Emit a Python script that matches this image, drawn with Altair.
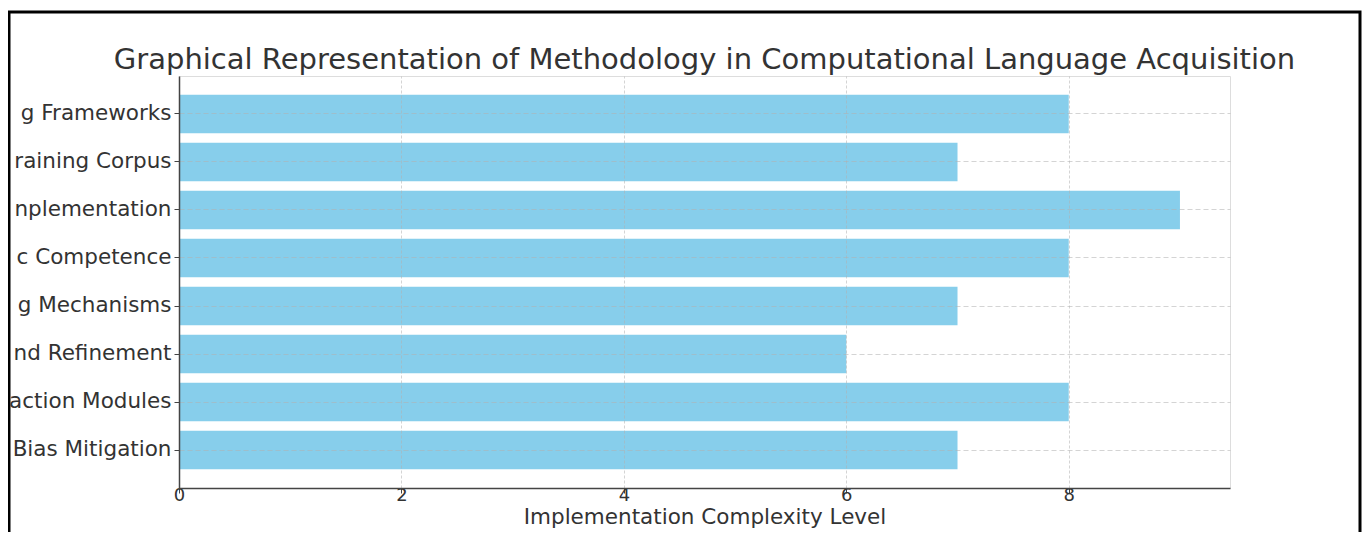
import altair as alt
import pandas as pd

# ---- data (labels as they are visible there) ----
methods = [
    "g Frameworks",
    "raining Corpus",
    "nplementation",
    "c Competence",
    "g Mechanisms",
    "nd Refinement",
    "action Modules",
    "Bias Mitigation",
]
levels = [8, 7, 9, 8, 7, 6, 8, 7]
x_ticks = [0, 2, 4, 6, 8]
x_domain = [0, 9.45]

title_text = "Graphical Representation of Methodology in Computational Language Acquisition"
x_title = "Implementation Complexity Level"

df = pd.DataFrame({"method": methods, "level": levels})

TEXT = "#333333"
FONT = "DejaVu Sans"

bars = alt.Chart(df).mark_bar(color="#87CEEB").encode(
    x=alt.X(
        "level:Q",
        scale=alt.Scale(domain=x_domain, nice=False, zero=True),
        axis=alt.Axis(
            values=x_ticks,
            title=x_title,
            titleFontSize=21.5,
            titleFont=FONT,
            titleFontWeight="normal",
            titleColor=TEXT,
            titleBaseline="alphabetic",
            titleY=35,
            labelFontSize=18,
            labelFont=FONT,
            labelColor=TEXT,
            labelBaseline="alphabetic",
            labelPadding=7,
            labelFlush=False,
            tickSize=5,
            tickColor="#444444",
            domainColor="#444444",
            domainWidth=1.5,
            grid=True,
            gridColor="#b0b0b0",
            gridOpacity=0.55,
            gridDash=[3, 2],
            zindex=1,
        ),
    ),
    y=alt.Y(
        "method:N",
        sort=methods,
        scale=alt.Scale(paddingInner=0.2, paddingOuter=0.39),
        axis=alt.Axis(
            title=None,
            labelLimit=0,
            labelFontSize=21.5,
            labelFont=FONT,
            labelColor=TEXT,
            labelPadding=3,
            tickSize=5,
            tickColor="#444444",
            domainColor="#444444",
            domainWidth=1.5,
            grid=True,
            gridColor="#b0b0b0",
            gridOpacity=0.55,
            gridDash=[5, 3],
            bandPosition=0.5,
            zindex=1,
        ),
    ),
)

frame = alt.Chart(pd.DataFrame({"a": [0]})).mark_rect(
    filled=False, stroke="black", strokeWidth=3
).encode(
    x=alt.value(-170),
    x2=alt.value(1181),
    y=alt.value(-64),
    y2=alt.value(470),
)

chart = (
    alt.layer(bars, frame)
    .properties(
        width=1051,
        height=412,
        title=alt.TitleParams(
            text=title_text,
            fontSize=29,
            font=FONT,
            fontWeight="normal",
            color=TEXT,
            anchor="middle",
            frame="group",
            baseline="alphabetic",
            offset=0,
            dy=87,
        ),
        padding={"left": 171, "top": 68, "right": 132, "bottom": 44},
        autosize=alt.AutoSizeParams(type="none"),
        background="white",
    )
    .configure_view(strokeOpacity=0)
    .configure(font=FONT)
)

chart.save("out.html", embed_options={"renderer": "svg", "actions": False})
